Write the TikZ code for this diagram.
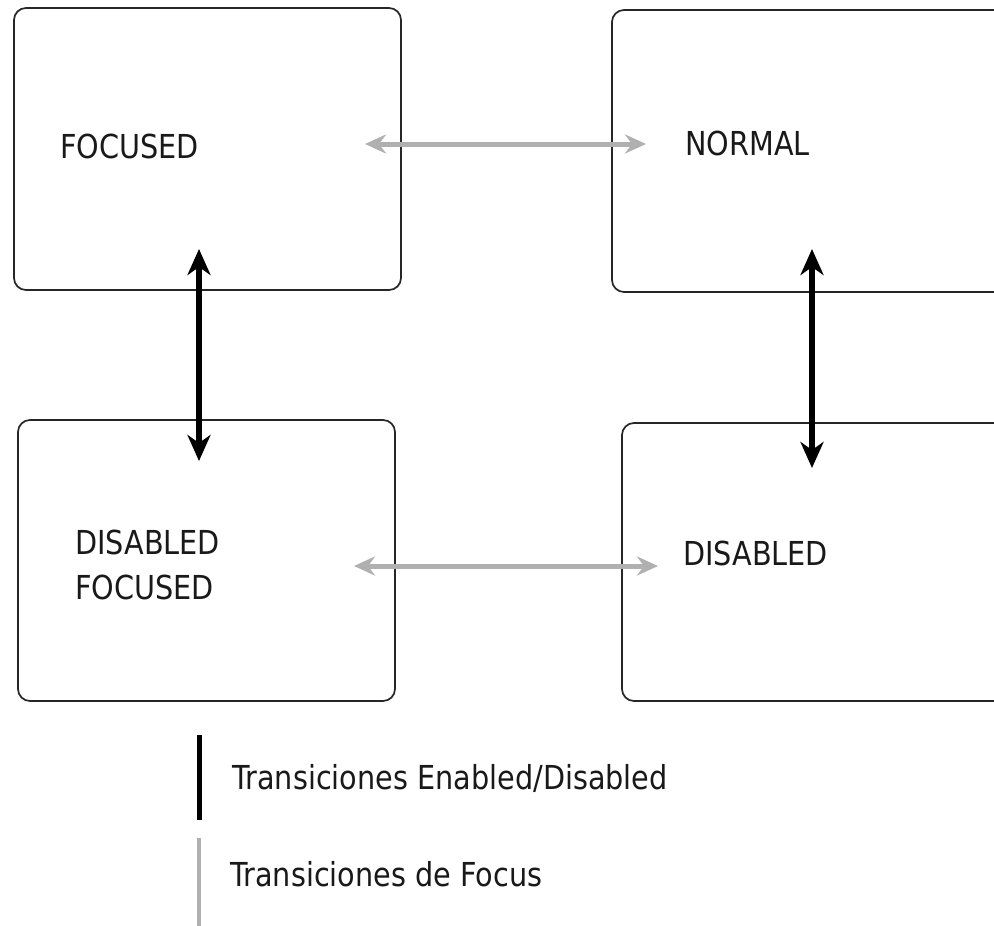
\documentclass[tikz,border=0pt]{standalone}
\usepackage{fontspec}
\setmainfont{DejaVu Sans}[FakeStretch=0.87]
\usetikzlibrary{arrows.meta}
\definecolor{lightarrow}{RGB}{176,176,176}
\definecolor{txt}{RGB}{25,25,25}
\tikzset{
  statebox/.style={draw=black!85, line width=1.7pt, rounded corners=12pt, inner sep=0pt},
  statetext/.style={inner sep=0pt, text=txt, font=\fontsize{33}{45}\selectfont, align=left},
  enarrow/.style={draw=black, line width=5.5pt, {Stealth[length=26pt,width=23pt,inset=8pt]}-{Stealth[length=26pt,width=23pt,inset=8pt]}},
  foarrow/.style={draw=lightarrow, line width=5pt, {Stealth[length=21pt,width=19pt,inset=7pt]}-{Stealth[length=21pt,width=19pt,inset=7pt]}},
  enbar/.style={draw=black, line width=5pt},
  fobar/.style={draw=lightarrow, line width=4pt}
}
\begin{document}
\begin{tikzpicture}[x=1pt,y=-1pt]
\useasboundingbox (0,0) rectangle (994,926);
\clip (0,0) rectangle (994,926);
% state boxes
\node[statebox, minimum width=387pt, minimum height=282pt] (F) at (207.5,149) {};
\node[statebox, minimum width=420pt, minimum height=282pt] (N) at (822,151) {};
\node[statebox, minimum width=377pt, minimum height=281pt] (DF) at (206.5,560.5) {};
\node[statebox, minimum width=420pt, minimum height=278pt] (D) at (832,562) {};
% texts
\node[statetext, anchor=base west] (tF) at (60,158) {FOCUSED};
\node[statetext, anchor=base west] (tN) at (685,155) {NORMAL};
\node[statetext, anchor=north west] (tDF) at (75,530) {DISABLED\\FOCUSED};
\node[statetext, anchor=base west] (tD) at (683,565) {DISABLED};
% arrow end points
\coordinate (fo1a) at (365,144);
\coordinate (fo1b) at (646,144);
\coordinate (fo2a) at (354,566);
\coordinate (fo2b) at (658,566);
\coordinate (en1a) at (199,249);
\coordinate (en1b) at (199,461);
\coordinate (en2a) at (812,249);
\coordinate (en2b) at (812,468);
\draw[foarrow] (fo1a) -- (fo1b);
\draw[foarrow] (fo2a) -- (fo2b);
\draw[enarrow] (en1a) -- (en1b);
\draw[enarrow] (en2a) -- (en2b);
% legend
\coordinate (lb1a) at (199,735);
\coordinate (lb1b) at (199,820);
\coordinate (lb2a) at (199,838);
\coordinate (lb2b) at (199,926);
\draw[enbar] (lb1a) -- (lb1b);
\draw[fobar] (lb2a) -- (lb2b);
\node[statetext, anchor=base west] (l1) at (232,789) {Transiciones Enabled/Disabled};
\node[statetext, anchor=base west] (l2) at (230,886) {Transiciones de Focus};
\end{tikzpicture}
\end{document}
